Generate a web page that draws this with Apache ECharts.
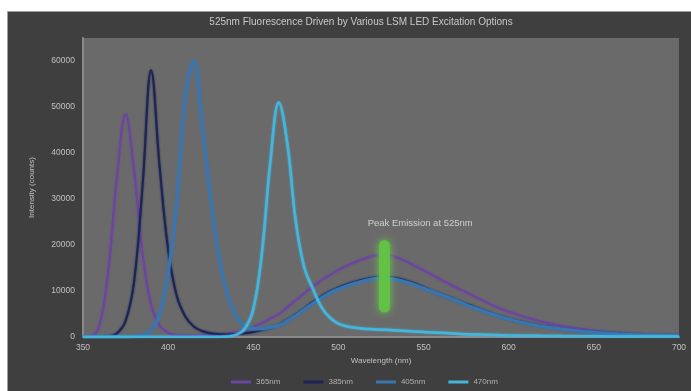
<!DOCTYPE html>
<html><head><meta charset="utf-8">
<script src="https://cdn.jsdelivr.net/npm/echarts@6/dist/echarts.min.js"></script>
<style>html,body{margin:0;padding:0;background:#fff}#c{width:691px;height:391px}</style>
</head><body><div id="c"></div>
<script>
const titleText = '525nm Fluorescence Driven by Various LSM LED Excitation Options';
const xName = 'Wavelength (nm)';
const yName = 'Intensity (counts)';
const wavelengths = [350,355,360,365,370,375,380,385,390,395,400,405,410,415,420,425,430,435,440,445,450,455,460,465,470,475,480,485,490,495,500,505,510,515,520,525,530,535,540,545,550,555,560,565,570,575,580,585,590,595,600,605,610,615,620,625,630,635,640,645,650,655,660,665,670,675,680,685,690,695,700];
const seriesNames = ['365nm','385nm','405nm','470nm'];
const s365 = [0,200,3000,15000,35000,48400,36000,18000,7000,2500,900,400,300,300,400,500,600,800,1000,1500,2200,3000,4000,5000,6500,8000,9500,11000,12300,13500,14600,15500,16300,17000,17600,17900,17800,17200,16400,15400,14500,13500,12500,11500,10600,9700,8800,7900,7000,6200,5500,4900,4300,3800,3300,2900,2500,2200,1900,1600,1400,1200,1000,850,700,600,500,400,350,300,250];
const s385 = [0,0,0,100,800,3500,12000,33000,58000,37000,19000,9000,4500,2300,1300,800,600,500,600,800,1100,1500,2000,2600,3700,4900,6200,7600,8800,9900,10700,11400,12000,12500,12900,13100,13000,12700,12200,11600,10800,10000,9300,8600,7900,7200,6500,5800,5100,4500,4000,3500,3100,2700,2400,2100,1800,1600,1400,1200,1050,900,800,700,600,500,450,400,350,300,250];
const s405 = [0,0,0,0,0,0,100,400,1500,5000,14000,29000,52000,60000,46000,30000,17000,9000,4500,2300,1800,1800,2100,2500,3500,4700,6000,7300,8500,9600,10400,11100,11700,12200,12600,12800,12700,12400,11900,11300,10600,9900,9200,8500,7800,7000,6300,5600,5000,4400,3900,3400,3000,2600,2300,2000,1750,1550,1350,1150,1000,870,770,670,580,490,430,380,330,280,230];
const s470 = [0,0,0,0,0,0,0,0,0,0,0,0,0,0,0,0,0,100,500,1800,6000,18000,38000,51000,42000,25000,15000,10500,6500,4200,2900,2300,2000,1800,1700,1600,1500,1400,1300,1200,1100,1000,900,800,700,600,550,500,450,400,350,300,280,260,240,220,200,180,170,160,150,140,130,120,110,100,100,100,100,100,100];
const peakBarX = 527;
const peakBarRange = [6500, 19900];
const peakLabel = 'Peak Emission at 525nm';
const peakLabelPos = [548, 24600];
const xTicks = [350,400,450,500,550,600,650,700];
const yTicks = [0,10000,20000,30000,40000,50000,60000];

const colors = ['#6c45a0','#1c2456','#3976b0','#44b6dc'];
const widths = [2,2,3,2.5];
const sets = [s365,s385,s405,s470];
const FONT = 'Liberation Sans, Arial, sans-serif';
const lineSeries = seriesNames.map((n,i)=>({
  name:n, type:'line', smooth:0.4, showSymbol:false, symbol:'none',
  data: wavelengths.map((w,j)=>[w, sets[i][j]]),
  lineStyle:{color:colors[i], width:widths[i], shadowBlur:2, shadowColor:colors[i]}, itemStyle:{color:colors[i]}, z:2+i
}));

const chart = echarts.init(document.getElementById('c'));
chart.setOption({
  animation:false,
  backgroundColor:'#fff',
  graphic:[{type:'rect', left:7, top:11, shape:{width:700, height:400}, style:{fill:'#3f3f3f', stroke:'#a0a0a0', lineWidth:1}, z:-10}],
  title:{text:titleText, left:356, top:12, textAlign:'center', textStyle:{color:'#c8c8c8', fontSize:10, fontWeight:'normal', fontFamily:FONT}},
  grid:{left:83, right:12, top:38, bottom:54, show:true, backgroundColor:'#6a6a6a', borderWidth:0},
  legend:{data:seriesNames, bottom:0, left:226, itemWidth:20, itemHeight:3, itemGap:23, icon:'rect',
    textStyle:{color:'#b0b0b0', fontSize:8, fontFamily:FONT}},
  xAxis:{type:'value', min:xTicks[0], max:xTicks[xTicks.length-1], interval:50, name:xName, nameLocation:'middle', nameGap:19,
    nameTextStyle:{color:'#c0c0c0', fontSize:8, fontFamily:FONT},
    axisLine:{show:true, lineStyle:{color:'#8a8a8a', width:2}}, axisTick:{show:false}, splitLine:{show:false},
    axisLabel:{color:'#c0c0c0', fontSize:8.5, margin:6, fontFamily:FONT}},
  yAxis:{type:'value', min:0, max:65000, interval:10000, name:yName, nameLocation:'middle', nameGap:47, nameRotate:90,
    nameTextStyle:{color:'#c0c0c0', fontSize:8, fontFamily:FONT},
    axisLine:{show:true, lineStyle:{color:'#8a8a8a', width:2}}, axisTick:{show:false}, splitLine:{show:false},
    axisLabel:{color:'#c0c0c0', fontSize:8.5, margin:8, showMaxLabel:false, fontFamily:FONT,
      formatter:v=> yTicks.includes(v)? String(v):''}},
  series: lineSeries.concat([
    {name:'peakBar', type:'line', showSymbol:false, symbol:'none', data:[[peakBarX,peakBarRange[0]],[peakBarX,peakBarRange[1]]],
     lineStyle:{color:'#62c442', width:11, cap:'round', shadowBlur:8, shadowColor:'rgba(110,220,80,0.9)', opacity:0.9}, z:10, silent:true},
    {name:'peakLabel', type:'scatter', symbolSize:0, data:[peakLabelPos], silent:true,
     label:{show:true, position:'inside', formatter:peakLabel, color:'#e6e6e6', fontSize:9.5, fontFamily:FONT}, z:11}
  ])
});
</script></body></html>
